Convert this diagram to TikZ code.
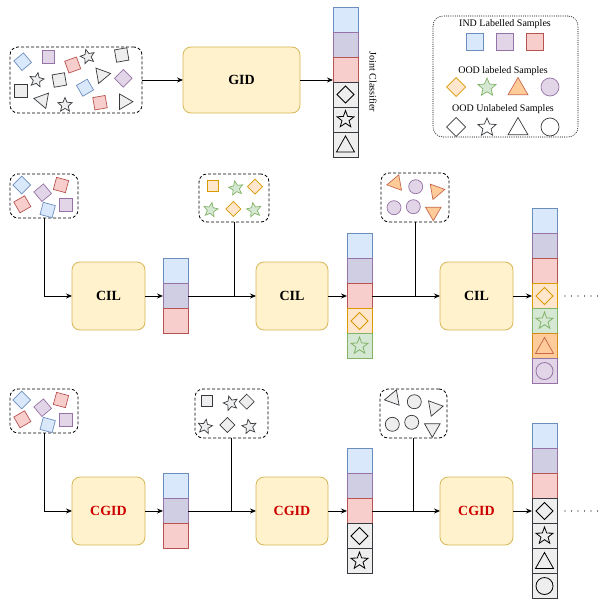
\documentclass[tikz,border=0pt]{standalone}
\usepackage{fontspec}
\setmainfont{Liberation Serif}
\usetikzlibrary{shapes.geometric,arrows.meta}

\definecolor{blueF}{HTML}{DAE8FC}\definecolor{blueD}{HTML}{6C8EBF}
\definecolor{purF}{HTML}{E1D5E7}\definecolor{purD}{HTML}{9673A6}
\definecolor{stkP}{HTML}{D0CEE2}
\definecolor{redF}{HTML}{F8CECC}\definecolor{redD}{HTML}{B85450}
\definecolor{oraF}{HTML}{FFE6CC}\definecolor{oraD}{HTML}{D79B00}
\definecolor{grnF}{HTML}{D5E8D4}\definecolor{grnD}{HTML}{82B366}
\definecolor{triF}{HTML}{FFCC99}\definecolor{triD}{HTML}{C8694E}
\definecolor{grayF}{HTML}{EEEEEE}\definecolor{grayD}{HTML}{36393D}
\definecolor{yelF}{HTML}{FFF2CC}\definecolor{yelD}{HTML}{D6B656}
\definecolor{cgidRed}{HTML}{CC0000}

% icons drawn inside classifier cells
\newcommand\icdia[1]{\draw[#1,line width=0.8pt] (path picture bounding box.center)
  +(0,-8.5) -- +(8.5,0) -- +(0,8.5) -- +(-8.5,0) -- cycle;}
\newcommand\icstar[1]{\draw[#1,line width=0.8pt,line join=miter] (path picture bounding box.center)
  +(90:9pt) -- +(126:3.7pt) -- +(162:9pt) -- +(198:3.7pt) -- +(234:9pt) -- +(270:3.7pt)
  -- +(306:9pt) -- +(342:3.7pt) -- +(18:9pt) -- +(54:3.7pt) -- cycle;}
\newcommand\ictri[1]{\draw[#1,line width=0.8pt] (path picture bounding box.center)
  +(0,-8.5) -- +(9,7.5) -- +(-9,7.5) -- cycle;}
\newcommand\iccirc[1]{\draw[#1,line width=0.8pt] (path picture bounding box.center) circle[radius=8.5pt];}

% a vertical stack of classifier cells: name prefix, x centre, top y, list of cell styles
\newcommand\cellstack[4]{%
  \foreach \sty [count=\k from 0] in {#4} {\node[\sty] (#1\k) at (#2,{#3+12.5+25*\k}) {};}}

\begin{document}
\begin{tikzpicture}[x=1pt,y=-1pt,
  every node/.style={inner sep=0pt,outer sep=0pt},
  proc/.style={draw=yelD,fill=yelF,rounded corners=8pt,line width=0.8pt,
    minimum width=73pt,minimum height=68pt,font=\fontsize{14}{16}\selectfont\bfseries},
  pool/.style={draw,dash pattern=on 3pt off 2pt,rounded corners=8pt,line width=0.8pt},
  arr/.style={-{Stealth[length=6pt,width=5pt]},line width=0.8pt},
  link/.style={line width=0.8pt},
  dots/.style={line width=1.4pt,line cap=round,dash pattern=on 0pt off 6.5pt},
  txt/.style={font=\fontsize{10}{12}\selectfont},
  sq/.style={rectangle,draw,line width=0.7pt,minimum size=12.5pt},
  dia/.style={diamond,draw,line width=0.7pt,minimum size=15pt},
  st/.style={star,star points=5,star point ratio=2.2,draw,line width=0.7pt,minimum size=15pt},
  tri/.style={regular polygon,regular polygon sides=3,draw,line width=0.7pt,minimum size=18pt},
  circ/.style={circle,draw,line width=0.7pt,minimum size=14pt},
  cB/.style={fill=blueF,draw=blueD},
  cP/.style={fill=purF,draw=purD},
  cR/.style={fill=redF,draw=redD},
  cO/.style={fill=oraF,draw=oraD},
  cG/.style={fill=grnF,draw=grnD},
  cT/.style={fill=triF,draw=triD},
  cK/.style={fill=grayF,draw=grayD},
  cell/.style={draw,minimum width=25pt,minimum height=25pt,line width=0.8pt},
  kB/.style={cell,fill=blueF,draw=blueD},
  kP/.style={cell,fill=stkP,draw=purD},
  kR/.style={cell,fill=redF,draw=redD},
  kOD/.style={cell,fill=oraF,draw=oraD,path picture={\icdia{oraD}}},
  kGS/.style={cell,fill=grnF,draw=grnD,path picture={\icstar{grnD}}},
  kTT/.style={cell,fill=triF,draw=oraD!70!triD,path picture={\ictri{triD}}},
  kPC/.style={cell,fill=purF,draw=purD,path picture={\iccirc{purD}}},
  kKD/.style={cell,fill=grayF,draw=grayD,path picture={\icdia{black}}},
  kKS/.style={cell,fill=grayF,draw=grayD,path picture={\icstar{black}}},
  kKT/.style={cell,fill=grayF,draw=grayD,path picture={\ictri{black}}},
  kKC/.style={cell,fill=grayF,draw=grayD,path picture={\iccirc{black}}},
]
\useasboundingbox (0,0) rectangle (604,599);

% ---------------- joint GID ----------------
\node[pool,minimum width=132pt,minimum height=66pt] (tbox) at (76,80) {};
\node[sq,cB,rotate=40] (t1) at (22.7,61.7) {};
\node[sq,cP] (t2) at (48.3,56.7) {};
\node[sq,cR,rotate=20] (t3) at (72.7,65) {};
\node[st,cK,rotate=15] (t4) at (87.7,56.7) {};
\node[sq,cK,rotate=10] (t5) at (121.7,55) {};
\node[st,cK,rotate=-10] (t6) at (36.7,80) {};
\node[sq,cK,rotate=10] (t7) at (59.3,80) {};
\node[tri,cK,rotate=-80] (t8) at (101.7,75) {};
\node[sq,cP,rotate=45] (t9) at (123.3,78.3) {};
\node[sq,cK] (t10) at (20.7,91) {};
\node[sq,cB,rotate=30] (t11) at (85,87.7) {};
\node[tri,cK,rotate=80] (t12) at (42.7,100) {};
\node[st,cK] (t13) at (65,105) {};
\node[sq,cR,rotate=10] (t14) at (100,102.7) {};
\node[tri,cK,rotate=-90] (t15) at (124,101.7) {};

\node[proc,minimum width=117pt,minimum height=66pt] (gid) at (241.5,80) {GID};
\cellstack{g}{345.5}{7}{kB,kP,kR,kKD,kKS,kKT}
\node[txt,rotate=-90] (jc) at (373,82) {Joint Classifier};

\draw[arr] (tbox) -- (gid);
\draw[arr] (gid.east) -- (gid.east -| g0.west);

% ---------------- legend ----------------
\node[draw,dash pattern=on 1pt off 1.2pt,rounded corners=10pt,line width=0.6pt,
  minimum width=145pt,minimum height=121pt] (legend) at (505.5,76.5) {};
\node[txt] (l1) at (505,24) {IND Labelled Samples};
\node[sq,cB,minimum size=17pt] (l1a) at (475,42) {};
\node[sq,cP,minimum size=17pt] (l1b) at (505,42) {};
\node[sq,cR,minimum size=17pt] (l1c) at (535,42) {};
\node[txt] (l2) at (503,71) {OOD labeled Samples};
\node[dia,cO,minimum size=19pt] (l2a) at (456,87) {};
\node[st,cG,minimum size=19pt] (l2b) at (487,87.5) {};
\node[tri,cT,minimum size=23pt] (l2c) at (518,89) {};
\node[circ,cP,minimum size=18pt] (l2d) at (550,87) {};
\node[txt] (l3) at (503,109) {OOD Unlabeled Samples};
\node[dia,cK,fill=white,minimum size=19pt] (l3a) at (456,127) {};
\node[st,cK,fill=white,minimum size=19pt] (l3b) at (487,127.5) {};
\node[tri,cK,fill=white,minimum size=23pt] (l3c) at (518,129) {};
\node[circ,cK,fill=white,minimum size=18pt] (l3d) at (550,127) {};

% ---------------- CIL row ----------------
\node[pool,minimum width=68pt,minimum height=44pt] (pA) at (44,196) {};
\node[sq,cB,rotate=45] (a1) at (21.7,185) {};
\node[sq,cP,rotate=40] (a2) at (42.7,192.7) {};
\node[sq,cR,rotate=-15] (a3) at (61,185) {};
\node[sq,cR,rotate=30] (a4) at (22.3,204.3) {};
\node[sq,cB,rotate=-15] (a5) at (47.7,210) {};
\node[sq,cP] (a6) at (66,205) {};

\node[pool,minimum width=70pt,minimum height=48pt] (pB) at (234,198) {};
\node[sq,cO,minimum size=11pt] (b1) at (212.7,186) {};
\node[st,cG,rotate=10] (b2) at (236,188.3) {};
\node[dia,cO] (b3) at (255,186.7) {};
\node[st,cG,rotate=-10] (b4) at (210.7,210) {};
\node[dia,cO] (b5) at (233.3,209) {};
\node[st,cG,rotate=10] (b6) at (254,210) {};

\node[pool,minimum width=68pt,minimum height=49pt] (pC) at (415,197.5) {};
\node[tri,cT,rotate=100] (c1) at (395.7,183.3) {};
\node[circ,cP] (c2) at (415.7,186.7) {};
\node[tri,cT,rotate=160] (c3) at (436,191) {};
\node[circ,cP] (c4) at (394,207.7) {};
\node[circ,cP] (c5) at (413.3,206.7) {};
\node[tri,cT,rotate=180] (c6) at (433.3,211.7) {};

\node[proc] (cA) at (108.5,296) {CIL};
\node[proc,minimum width=72pt] (cB) at (292,296) {CIL};
\node[proc] (cC) at (476.5,296) {CIL};

\cellstack{sA}{175.5}{258.5}{kB,kP,kR}
\cellstack{sB}{359.5}{233.5}{kB,kP,kR,kOD,kGS}
\cellstack{sC}{544.5}{208.5}{kB,kP,kR,kOD,kGS,kTT,kPC}

\draw[arr] (pA.south) |- (cA.west);
\draw[arr] (cA.east) -- (cA.east -| sA0.west);
\draw[arr] (sA1.east) -- (cB.west);
\draw[link] (pB.south) -- (pB.south |- cB.west);
\draw[arr] (cB.east) -- (cB.east -| sB0.west);
\draw[arr] (sB2.east) -- (cC.west);
\draw[link] (pC.south) -- (pC.south |- cC.west);
\draw[arr] (cC.east) -- (cC.east -| sC0.west);
\draw[dots] ([xshift=8pt]sC3.east) -- ([xshift=42pt]sC3.east);

% ---------------- CGID row ----------------
\node[pool,minimum width=68pt,minimum height=44pt] (qA) at (44,411) {};
\node[sq,cB,rotate=45] (d1) at (21.7,400) {};
\node[sq,cP,rotate=40] (d2) at (42.7,407.7) {};
\node[sq,cR,rotate=-15] (d3) at (61,400) {};
\node[sq,cR,rotate=30] (d4) at (22.3,419.3) {};
\node[sq,cB,rotate=-15] (d5) at (47.7,425) {};
\node[sq,cP] (d6) at (66,420) {};

\node[pool,minimum width=73pt,minimum height=49pt] (qB) at (231.5,413.5) {};
\node[sq,cK,minimum size=11pt] (e1) at (207.3,401) {};
\node[st,cK,rotate=15] (e2) at (230.7,403.3) {};
\node[dia,cK] (e3) at (246.7,401.7) {};
\node[st,cK,rotate=-10] (e4) at (205,426.7) {};
\node[dia,cK] (e5) at (227.3,425) {};
\node[st,cK,rotate=10] (e6) at (249.3,426.7) {};

\node[pool,minimum width=67pt,minimum height=49pt] (qC) at (413.5,413.5) {};
\node[tri,cK,rotate=100] (f1) at (393.3,398.3) {};
\node[circ,cK] (f2) at (414.3,401.7) {};
\node[tri,cK,rotate=-80] (f3) at (434.3,407.7) {};
\node[circ,cK] (f4) at (392.3,424.3) {};
\node[circ,cK] (f5) at (411.7,422.3) {};
\node[tri,cK,rotate=180] (f6) at (432.3,428.3) {};

\node[proc,text=cgidRed] (gA) at (108.5,511) {CGID};
\node[proc,minimum width=72pt,text=cgidRed] (gB) at (292,511) {CGID};
\node[proc,text=cgidRed] (gC) at (476.5,511) {CGID};

\cellstack{uA}{175.5}{473.5}{kB,kP,kR}
\cellstack{uB}{359.5}{448.5}{kB,kP,kR,kKD,kKS}
\cellstack{uC}{544.5}{423.5}{kB,kP,kR,kKD,kKS,kKT,kKC}

\draw[arr] (qA.south) |- (gA.west);
\draw[arr] (gA.east) -- (gA.east -| uA0.west);
\draw[arr] (uA1.east) -- (gB.west);
\draw[link] (qB.south) -- (qB.south |- gB.west);
\draw[arr] (gB.east) -- (gB.east -| uB0.west);
\draw[arr] (uB2.east) -- (gC.west);
\draw[link] (qC.south) -- (qC.south |- gC.west);
\draw[arr] (gC.east) -- (gC.east -| uC0.west);
\draw[dots] ([xshift=8pt]uC3.east) -- ([xshift=42pt]uC3.east);
\end{tikzpicture}
\end{document}
